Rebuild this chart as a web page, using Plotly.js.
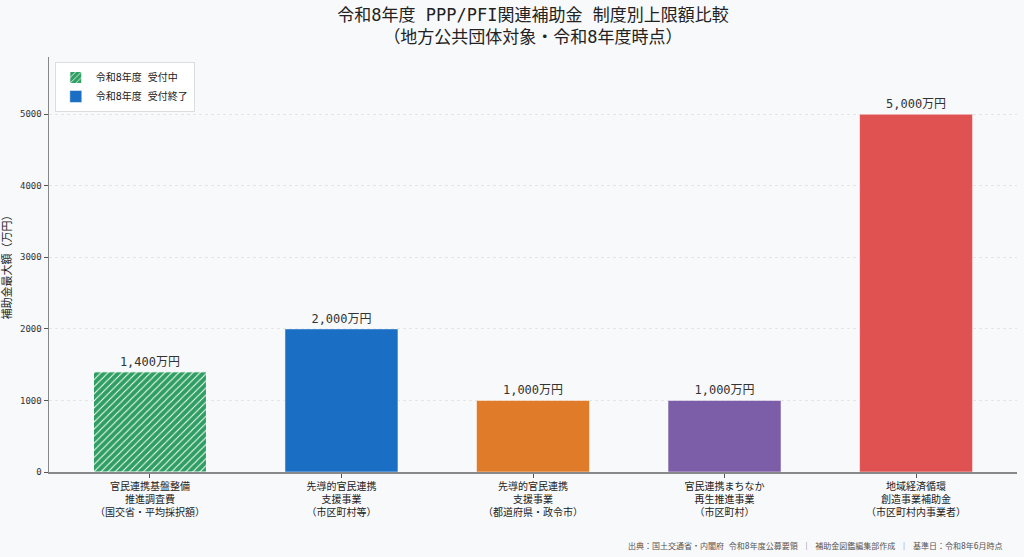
<!DOCTYPE html>
<html>
<head>
<meta charset="utf-8">
<script src="https://cdn.plot.ly/plotly-3.0.1.min.js"></script>
<style>
  html, body { margin: 0; padding: 0; background: #f8f9fb; }
  #chart { width: 1024px; height: 557px; }
</style>
</head>
<body>
<div id="chart"></div>
<script>
// 制度名（改行付き）
var categories = [
    "官民連携基盤整備<br>推進調査費<br>（国交省・平均採択額）",
    "先導的官民連携<br>支援事業<br>（市区町村等）",
    "先導的官民連携<br>支援事業<br>（都道府県・政令市）",
    "官民連携まちなか<br>再生推進事業<br>（市区町村）",
    "地域経済循環<br>創造事業補助金<br>（市区町村内事業者）"
];
// 上限額（万円）
var amounts = [1400, 2000, 1000, 1000, 5000];
var barColors = ["#2e9e62", "#1a6fc4", "#e07b2a", "#7b5ea7", "#e05252"];
var yTicks = [0, 1000, 2000, 3000, 4000, 5000];

var FONT = "'DejaVu Sans Mono', 'Noto Sans CJK JP', monospace";

function label(v) {
    return v.toLocaleString("en-US") + "万円";
}

var traces = [];
for (var i = 0; i < categories.length; i++) {
    var marker = {
        color: barColors[i],
        line: { color: i === 0 ? "#ffffff" : "rgba(255,255,255,0.5)", width: 1 }
    };
    if (i === 0) {
        marker.pattern = { shape: "/", bgcolor: barColors[i], fgcolor: "#ffffff", size: 5, solidity: 0.2 };
    }
    var name = "";
    var show = false;
    if (i === 0) { name = "令和8年度 受付中"; show = true; }
    if (i === 1) { name = "令和8年度 受付終了"; show = true; }
    traces.push({
        type: "bar",
        x: [categories[i]],
        y: [amounts[i]],
        name: name,
        showlegend: show,
        marker: marker,
        width: 0.59,
        text: [label(amounts[i])],
        textposition: "outside",
        cliponaxis: false,
        textfont: { family: FONT, size: 12, color: "#333333" },
        hoverinfo: "skip"
    });
}

var layout = {
    width: 1024,
    height: 557,
    paper_bgcolor: "#f8f9fb",
    plot_bgcolor: "#f8f9fb",
    font: { family: FONT, color: "#222222" },
    margin: { l: 49, r: 7, t: 57, b: 85 },
    barmode: "overlay",
    title: {
        text: "令和8年度 PPP/PFI関連補助金 制度別上限額比較<br>（地方公共団体対象・令和8年度時点）",
        font: { family: FONT, size: 17, color: "#222222" },
        x: 0.5,
        xref: "paper",
        yref: "container",
        y: 0.962,
        yanchor: "middle"
    },
    xaxis: {
        categoryorder: "array",
        categoryarray: categories,
        range: [-0.527, 4.527],
        showline: true,
        linecolor: "#888888",
        linewidth: 1.5,
        ticks: "outside",
        ticklen: 4,
        tickcolor: "#555555",
        tickfont: { family: FONT, size: 10, color: "#222222" },
        showgrid: false,
        zeroline: false
    },
    yaxis: {
        range: [0, 5800],
        tickvals: yTicks,
        ticktext: yTicks.map(String),
        showline: true,
        linecolor: "#888888",
        linewidth: 1.5,
        ticks: "outside",
        ticklen: 4,
        tickcolor: "#555555",
        tickfont: { family: FONT, size: 9, color: "#333333" },
        showgrid: true,
        gridcolor: "#e0e0e0",
        griddash: "3px,3px",
        gridwidth: 0.8,
        zeroline: false,
        title: {
            text: "補助金最大額（万円）",
            font: { family: FONT, size: 11, color: "#222222" },
            standoff: 6
        }
    },
    legend: {
        x: 0.006,
        y: 0.988,
        xanchor: "left",
        yanchor: "top",
        bgcolor: "#ffffff",
        bordercolor: "#dddddd",
        borderwidth: 1,
        font: { family: FONT, size: 10, color: "#222222" },
        traceorder: "normal"
    },
    annotations: [{
        text: "出典：国土交通省・内閣府 令和8年度公募要領 ｜ 補助金図鑑編集部作成 ｜ 基準日：令和8年6月時点",
        xref: "paper", yref: "paper",
        x: 0.9876, y: -0.178,
        xanchor: "right", yanchor: "middle",
        showarrow: false,
        font: { family: FONT, size: 8, color: "#555555" }
    }]
};

Plotly.newPlot("chart", traces, layout, { displayModeBar: false, staticPlot: true });
</script>
</body>
</html>
